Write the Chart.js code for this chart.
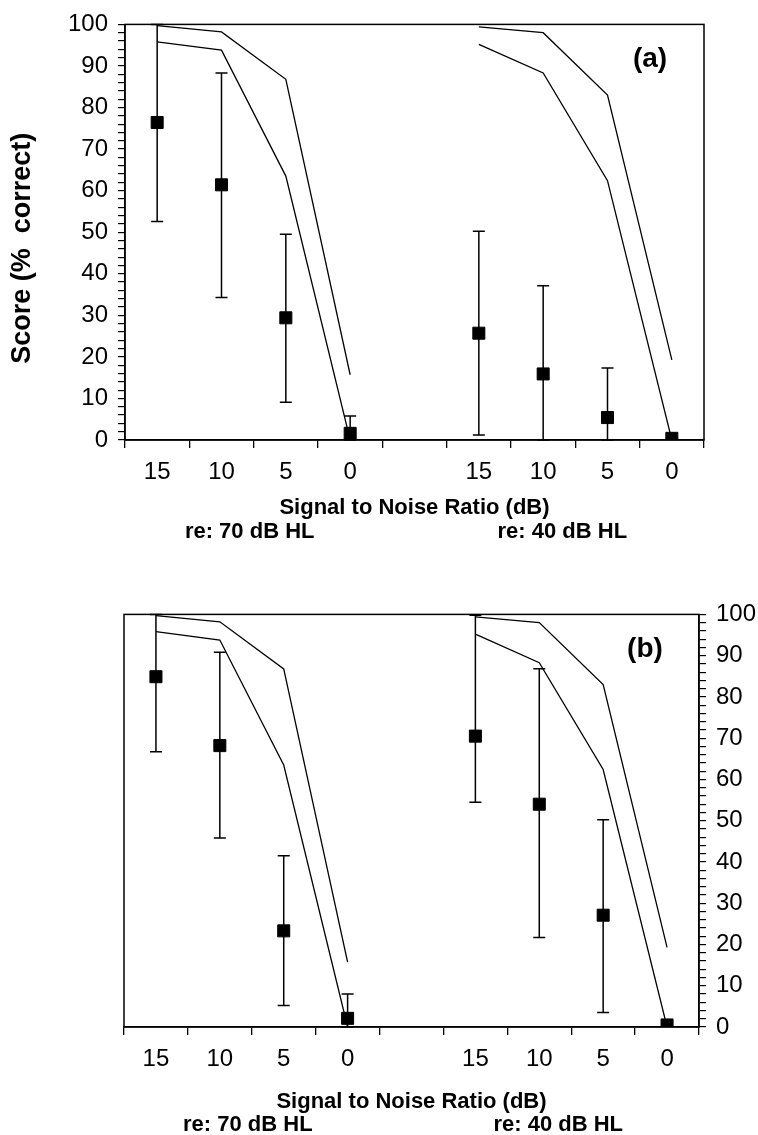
<!DOCTYPE html>
<html lang="en">
  <head>
    <meta charset="UTF-8" />
    <script src="https://cdn.jsdelivr.net/npm/chart.js@4.4.1/dist/chart.umd.min.js"></script>
    <title>Score vs SNR</title>
    <style>
      body { margin: 0; background: #fff; }
      .panel { position: absolute; left: 0; width: 758px; }
      #top { top: 0; height: 560px; }
      #bottom { top: 590px; height: 545px; }
    </style>
  </head>
  <body>
    <div class="panel" id="top"><canvas id="chartA" width="758" height="560"></canvas></div>
    <div class="panel" id="bottom"><canvas id="chartB" width="758" height="545"></canvas></div>
    <script>
      // categories (SNR in dB), two groups with an empty slot between
      const snrLabels = ["15", "10", "5", "0", "", "15", "10", "5", "0"];

      // normal-hearing range (upper and lower bounds), same in both panels
      const normUpper = [99.7, 98.2, 86.8, 15.7, null, 99.4, 98.0, 83.0, 19.3];
      const normLower = [95.8, 93.8, 63.5, 0, null, 95.2, 88.3, 62.4, 0];

      // panel (a)
      const scoreA = [76.4, 61.4, 29.4, 1.6, null, 25.7, 15.9, 5.4, 0.4];
      const highA = [100, 88.3, 49.5, 5.8, null, 50.2, 37.1, 17.3, 0.4];
      const lowA = [52.6, 34.3, 9.1, 0, null, 1.2, 0, 0, 0.4];

      // panel (b)
      const scoreB = [84.9, 68.2, 23.3, 2.1, null, 70.5, 54.0, 27.1, 0.5];
      const highB = [100, 90.8, 41.5, 8.0, null, 99.8, 86.8, 50.2, 0.5];
      const lowB = [66.7, 45.8, 5.2, 0, null, 54.5, 21.7, 3.5, 0.5];

      const groupLabels = ["re: 70 dB HL", "re: 40 dB HL"];
      const FONT = "'Liberation Sans', Arial, sans-serif";

      // draws error bars from the low/high arrays
      const errorBars = {
        id: "errorBars",
        beforeDatasetsDraw(chart, args, opts) {
          const ctx = chart.ctx;
          const x = chart.scales.x, y = chart.scales.y;
          ctx.save();
          ctx.strokeStyle = "#000";
          ctx.lineWidth = 1.5;
          opts.low.forEach((lo, i) => {
            if (lo === null) return;
            const px = x.getPixelForValue(i);
            const yl = y.getPixelForValue(lo), yh = y.getPixelForValue(opts.high[i]);
            ctx.beginPath();
            ctx.moveTo(px, yl); ctx.lineTo(px, yh);
            ctx.moveTo(px - 6, yl); ctx.lineTo(px + 6, yl);
            ctx.moveTo(px - 6, yh); ctx.lineTo(px + 6, yh);
            ctx.stroke();
          });
          ctx.restore();
        },
      };

      // frame round the plot area and the free text
      const frameText = {
        id: "frameText",
        afterDraw(chart, args, opts) {
          const ctx = chart.ctx, a = chart.chartArea;
          const x = chart.scales.x;
          ctx.save();
          ctx.strokeStyle = "#000";
          ctx.lineWidth = 1.5;
          ctx.strokeRect(a.left, a.top, a.right - a.left, a.bottom - a.top);
          ctx.fillStyle = "#000";
          ctx.textAlign = "center";
          ctx.textBaseline = "middle";
          ctx.font = "bold 28px " + FONT;
          ctx.fillText(opts.tag, a.right - 54, a.top + 35);
          ctx.font = "bold 22px " + FONT;
          ctx.fillText("Signal to Noise Ratio (dB)", (a.left + a.right) / 2, a.bottom + opts.titleGap);
          const g1 = (x.getPixelForValue(1) + x.getPixelForValue(2)) / 2 - 4;
          const g2 = (x.getPixelForValue(6) + x.getPixelForValue(7)) / 2 - 13;
          ctx.fillText(groupLabels[0], g1, a.bottom + opts.groupGap);
          ctx.fillText(groupLabels[1], g2, a.bottom + opts.groupGap);
          if (opts.yTitle) {
            ctx.translate(23, (a.top + a.bottom) / 2 + 16);
            ctx.rotate(-Math.PI / 2);
            ctx.font = "bold 27px " + FONT;
            ctx.fillText(opts.yTitle, 0, 0);
          }
          ctx.restore();
        },
      };

      function makeChart(id, cfg) {
        const canvas = document.getElementById(id);
        const H = canvas.height;
        return new Chart(canvas.getContext("2d"), {
          type: "line",
          data: {
            labels: snrLabels,
            datasets: [
              { data: normUpper, borderColor: "#000", borderWidth: 1.3, pointRadius: 0, spanGaps: false, tension: 0 },
              { data: normLower, borderColor: "#000", borderWidth: 1.3, pointRadius: 0, spanGaps: false, tension: 0 },
              {
                data: cfg.score, showLine: false, pointStyle: "rect", pointRadius: 8.5,
                pointBackgroundColor: "#000", pointBorderColor: "#000", pointBorderWidth: 1,
              },
            ],
          },
          options: {
            responsive: false,
            animation: false,
            layout: { padding: cfg.padding },
            plugins: {
              legend: { display: false },
              tooltip: { enabled: false },
              errorBars: { low: cfg.low, high: cfg.high },
              frameText: { tag: cfg.tag, yTitle: cfg.yTitle, titleGap: cfg.titleGap, groupGap: cfg.groupGap },
            },
            scales: {
              x: {
                offset: true,
                grid: { offset: true, drawOnChartArea: false, tickLength: 8, color: "#000", lineWidth: 1.3 },
                border: { color: "#000", width: 1.5 },
                ticks: { color: "#000", font: { family: FONT, size: 24 }, padding: 10, maxRotation: 0, autoSkip: false },
                afterFit: (s) => { s.height = H - cfg.plotBottom; },
              },
              y: {
                position: cfg.side,
                min: 0, max: 100,
                grid: { drawOnChartArea: false, tickLength: 7, color: "#000", lineWidth: 1.2 },
                border: { color: "#000", width: 1.5 },
                ticks: {
                  stepSize: 2, autoSkip: false, padding: 10, color: "#000",
                  font: { family: FONT, size: 24 },
                  callback: (v) => (v % 10 === 0 ? v : ""),
                },
                afterFit: (s) => { s.width = cfg.yWidth; },
              },
            },
          },
          plugins: [errorBars, frameText],
        });
      }

      makeChart("chartA", {
        score: scoreA, low: lowA, high: highA, tag: "(a)", yTitle: "Score (%  correct)",
        side: "left", yWidth: 125, padding: { left: 0, right: 54, top: 12, bottom: 0 },
        plotBottom: 440, titleGap: 68, groupGap: 92,
      });
      makeChart("chartB", {
        score: scoreB, low: lowB, high: highB, tag: "(b)", yTitle: null,
        side: "right", yWidth: 59, padding: { left: 124, right: 0, top: 13, bottom: 0 },
        plotBottom: 437, titleGap: 75, groupGap: 98,
      });
    </script>
  </body>
</html>
